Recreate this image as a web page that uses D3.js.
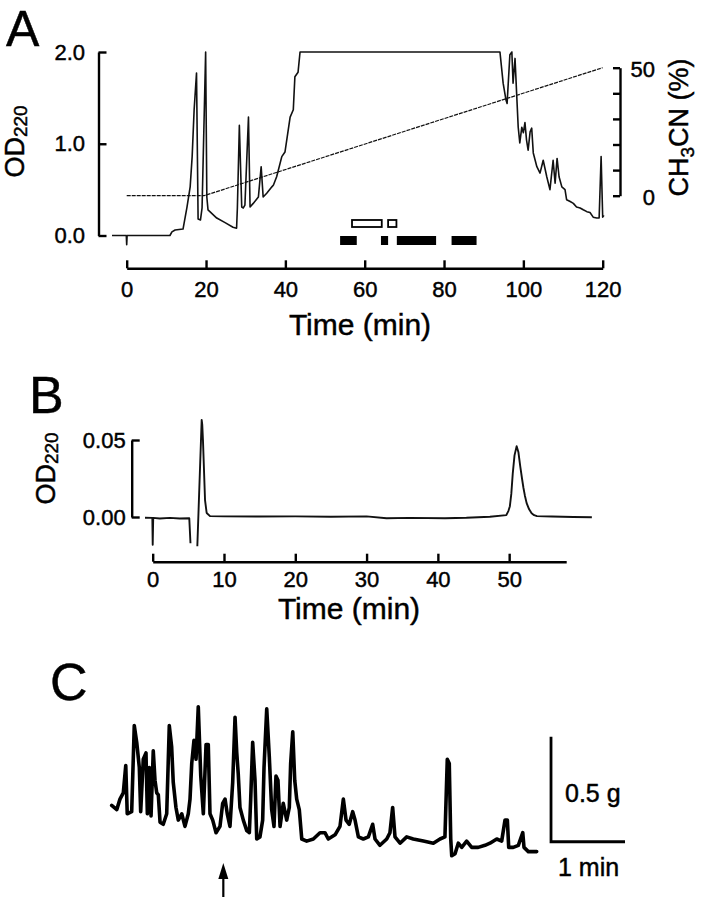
<!DOCTYPE html>
<html><head><meta charset="utf-8">
<script src="https://cdn.jsdelivr.net/npm/d3@7"></script>
<style>body{margin:0;background:#fff}</style>
</head><body><svg id="c" width="702" height="899"></svg>
<script>
const FONT = '"Liberation Sans", Arial, Helvetica, sans-serif';

// ---------- Panel A data ----------
const aTime = [-3.7,-0.1,0,0.1,5,10.9,11.4,12.2,14.2,15.2,16.0,16.5,17.0,17.6,18.0,18.6,19.0,19.9,20.2,20.5,22.7,24.8,26.8,27.7,27.9,28.4,29.0,29.4,29.8,30.7,31.1,31.9,33.2,33.9,34.4,35.3,36.6,37.0,37.8,39.1,39.9,41.2,42.0,42.4,43.2,43.7,94.1,94.9,95.6,95.9,96.6,97.1,97.4,97.9,98.3,98.7,99.1,99.6,100.0,100.4,100.8,101.2,101.7,102.1,102.5,103.4,104.2,105.0,105.9,106.7,107.5,108.0,108.5,109.0,109.7,110.5,110.9,111.8,112.6,113.4,114.3,115.1,116.0,116.8,117.6,118.5,119.1,119.6,120.0,120.3];
const aOD   = [0,0,-0.1,0,0,0,0.04,0.06,0.07,0.31,0.53,0.86,1.37,1.77,0.18,0.17,0.30,2.0,0.42,0.28,0.19,0.14,0.09,0.08,0.30,1.20,0.31,0.30,0.33,1.29,0.31,0.35,0.42,0.75,0.42,0.46,0.53,0.55,0.64,0.86,0.91,1.29,1.37,1.73,1.78,2.0,2.0,1.66,1.48,1.44,1.97,2.0,1.66,1.93,1.55,1.18,1.01,1.18,1.12,1.23,1.04,0.93,1.13,1.17,0.90,0.75,0.68,0.82,0.64,0.50,0.82,0.57,0.84,0.64,0.53,0.50,0.39,0.37,0.35,0.31,0.30,0.28,0.26,0.25,0.20,0.19,0.19,0.86,0.20,0.22];
const aGradTime = [0, 19.5, 120];
const aGradPct  = [0, 0, 50];
const aOpenBars   = [[56.8,64.3],[65.9,68.0]];
const aFilledBars = [[53.8,58.0],[64.1,65.9],[68.1,78.0],[81.9,88.2]];
const aXTicks = [0,20,40,60,80,100,120];
const aYTicks = [0,1,2];
const aRightTicks = [0,10,20,30,40,50];
const aRightLabels = {0:"0",50:"50"};

// ---------- Panel B data ----------
const bTime = [-1.08,-0.05,0,0.07,1.0,2.4,3.8,5.13,5.30,null,6.26,6.87,6.95,7.05,7.34,7.57,8.04,10,15,20,25,30,32.8,36,41.0,44,47.3,49.6,49.9,50.1,50.3,50.5,50.75,51.05,51.3,51.55,51.8,52.0,52.2,52.45,52.8,53.15,53.5,53.9,56,59,61.6];
const bOD   = [-0.0005,-0.0006,-0.018,-0.0006,-0.001,-0.0006,-0.001,-0.0008,-0.017,null,-0.019,0.063,0.060,0.050,0.011,0.0026,0.0006,0.0004,0.0003,0.0004,0.0002,0.0004,-0.0008,-0.0006,-0.0008,-0.0005,0.0002,0.0012,0.004,0.007,0.015,0.028,0.040,0.046,0.042,0.033,0.025,0.019,0.014,0.009,0.005,0.0024,0.0012,0.0006,0.0003,0.0,-0.0002];
const bXTicks = [0,10,20,30,40,50];
const bYTicks = [0,0.05];

// ---------- Panel C data (time in s, force in g) ----------
const cTime = [0,4.1,6.7,9.4,11.4,12.6,16.2,18.3,20.3,22.4,23.5,25.6,27.8,28.9,30.5,31.9,33.7,35.1,36.5,37.8,39.2,41.8,44.6,46.7,48.6,49.9,52.1,54.0,56.8,59.4,62.1,63.5,64.9,66.7,68.4,70.2,72.2,74.3,76.5,78.3,79.7,81.9,84.6,87.8,90.0,91.9,93.7,95.9,98.1,100.0,101.4,102.6,104.0,106.7,109.5,111.6,112.7,114.3,116.2,117.6,120.2,122.4,123.5,125.7,127.8,129.7,131.6,133.2,134.8,136.5,139.1,141.9,144.0,145.1,146.8,148.4,150.0,152.1,154.1,158.1,163.5,168.9,172.9,175.6,181.1,185.1,187.8,190.0,192.6,195.4,197.3,200.0,204.0,208.1,211.6,213.5,217.5,223.0,225.6,227.8,229.7,233.8,239.2,244.5,252.7,260.8,266.2,270.2,272.1,273.7,274.9,275.7,278.4,281.0,283.8,287.8,291.9,297.2,302.7,306.7,312.2,316.2,318.9,320.8,321.9,325.6,329.7,333.3,334.3,337.8,341.8,344.6];
const cForce = [0.26,0.24,0.29,0.32,0.45,0.22,0.23,0.64,0.56,0.44,0.23,0.48,0.51,0.22,0.44,0.21,0.52,0.38,0.32,0.31,0.18,0.17,0.22,0.64,0.54,0.37,0.25,0.19,0.22,0.16,0.22,0.29,0.46,0.57,0.48,0.73,0.40,0.22,0.55,0.55,0.22,0.19,0.13,0.16,0.27,0.29,0.22,0.16,0.37,0.68,0.51,0.41,0.25,0.19,0.14,0.13,0.29,0.56,0.38,0.10,0.11,0.19,0.44,0.72,0.49,0.24,0.16,0.40,0.38,0.16,0.27,0.19,0.25,0.46,0.61,0.38,0.29,0.24,0.10,0.09,0.10,0.13,0.13,0.10,0.12,0.16,0.29,0.19,0.17,0.23,0.19,0.11,0.10,0.11,0.17,0.10,0.07,0.10,0.13,0.25,0.11,0.08,0.11,0.10,0.09,0.08,0.10,0.11,0.48,0.46,0.10,0.02,0.03,0.08,0.06,0.09,0.06,0.06,0.07,0.08,0.10,0.09,0.19,0.19,0.06,0.06,0.07,0.13,0.06,0.04,0.04,0.04];
const cScaleBarStart = [356.2, 0.087]; // s, g
const cScaleForce = 0.5;   // g
const cScaleTime = 60;     // s
const cArrowTime = 90.5;   // s

// ---------- Drawing ----------
const svg = d3.select("#c");
svg.append("rect").attr("width",702).attr("height",899).attr("fill","#fff");

const TXT_STROKE = 0.45;
function styleAxis(g, fs){
  g.attr("font-family", FONT).attr("font-size", fs);
  g.selectAll("path.domain").attr("stroke","#000").attr("stroke-width",2.4);
  g.selectAll(".tick line").attr("stroke","#000").attr("stroke-width",2.4);
  g.selectAll(".tick text").attr("fill","#000").attr("stroke","#000").attr("stroke-width",TXT_STROKE);
}
function label(txt, x, y, fs, anchor){
  return svg.append("text").attr("x",x).attr("y",y).attr("font-family",FONT)
    .attr("font-size",fs).attr("text-anchor",anchor||"start").attr("fill","#000")
    .attr("stroke","#000").attr("stroke-width",TXT_STROKE).text(txt);
}
function rotLabel(x, y, fs){
  return svg.append("text").attr("transform",`translate(${x},${y}) rotate(-90)`)
    .attr("font-family",FONT).attr("font-size",fs).attr("text-anchor","middle")
    .attr("fill","#000").attr("stroke","#000").attr("stroke-width",TXT_STROKE);
}

// ===== Panel A =====
const xA = d3.scaleLinear().domain([0,120]).range([126.7,602.7]);
const yA = d3.scaleLinear().domain([0,2]).range([235.5,52]);
const yAR = d3.scaleLinear().domain([0,50]).range([195.7,67.7]);

label("A", 6, 46, 50);

svg.append("g").attr("transform","translate(0,268.3)")
  .call(d3.axisBottom(xA).tickValues(aXTicks).tickFormat(d3.format("d"))
    .tickSizeInner(-8).tickSizeOuter(0).tickPadding(13.5))
  .call(g=>styleAxis(g,22));

svg.append("g").attr("transform","translate(98.5,0)")
  .call(d3.axisLeft(yA).tickValues(aYTicks).tickFormat(d3.format(".1f"))
    .tickSizeInner(-8).tickSizeOuter(0).tickPadding(13.5))
  .call(g=>styleAxis(g,22));

svg.append("g").attr("transform","translate(620,0)")
  .call(d3.axisRight(yAR).tickValues(aRightTicks).tickFormat(d=>aRightLabels[d]||"")
    .tickSizeInner(-7).tickSizeOuter(0).tickPadding(35))
  .call(g=>styleAxis(g,22))
  .call(g=>g.selectAll(".tick text").attr("text-anchor","end").attr("dy","0.4em"));

// gradient line
svg.append("path")
  .datum(aGradTime.map((t,i)=>[t,aGradPct[i]]))
  .attr("d", d3.line().x(d=>xA(d[0])).y(d=>yAR(d[1])))
  .attr("fill","none").attr("stroke","#111").attr("stroke-width",1.2)
  .attr("stroke-dasharray","4,1");

// chromatogram
svg.append("path")
  .datum(aTime.map((t,i)=>[t,aOD[i]]))
  .attr("d", d3.line().x(d=>xA(d[0])).y(d=>yA(d[1])))
  .attr("fill","none").attr("stroke","#111").attr("stroke-width",1.6)
  .attr("stroke-linejoin","round");

// fraction bars
svg.selectAll("rect.open").data(aOpenBars).enter().append("rect")
  .attr("x",d=>xA(d[0])).attr("width",d=>xA(d[1])-xA(d[0]))
  .attr("y",220).attr("height",7)
  .attr("fill","#fff").attr("stroke","#000").attr("stroke-width",1.8);
svg.selectAll("rect.filled").data(aFilledBars).enter().append("rect")
  .attr("x",d=>xA(d[0])).attr("width",d=>xA(d[1])-xA(d[0]))
  .attr("y",236).attr("height",9).attr("fill","#000");

// axis titles A
const odA = rotLabel(24,141.5,27);
odA.append("tspan").text("OD");
odA.append("tspan").attr("font-size",19).attr("dy",3).text("220");

const chA = rotLabel(688,127.5,27);
chA.append("tspan").text("CH");
chA.append("tspan").attr("font-size",19).attr("dy",6).text("3");
chA.append("tspan").attr("dy",-6).text("CN (%)");

label("Time (min)", 360, 335, 30, "middle");

// ===== Panel B =====
const xB = d3.scaleLinear().domain([0,58]).range([152.7,566.2]);
const yB = d3.scaleLinear().domain([0,0.05]).range([517,440]);

label("B", 29, 413, 52);

svg.append("g").attr("transform","translate(0,561.7)")
  .call(d3.axisBottom(xB).tickValues(bXTicks).tickFormat(d3.format("d"))
    .tickSizeInner(-8).tickSizeOuter(0).tickPadding(10))
  .call(g=>styleAxis(g,22));

svg.append("g").attr("transform","translate(131.7,0)")
  .call(d3.axisLeft(yB).tickValues(bYTicks).tickFormat(d3.format(".2f"))
    .tickSizeInner(-8).tickSizeOuter(0).tickPadding(6))
  .call(g=>styleAxis(g,22));

svg.append("path")
  .datum(bTime.map((t,i)=>[t,bOD[i]]))
  .attr("d", d3.line().defined(d=>d[0]!==null && d[1]!==null).x(d=>xB(d[0])).y(d=>yB(d[1])))
  .attr("fill","none").attr("stroke","#111").attr("stroke-width",1.9)
  .attr("stroke-linejoin","round");

const odB = rotLabel(55,468.5,27);
odB.append("tspan").text("OD");
odB.append("tspan").attr("font-size",19).attr("dy",3).text("220");

label("Time (min)", 349, 619, 30, "middle");

// ===== Panel C =====
const xC = d3.scaleLinear().domain([0,60]).range([111.7,185.7]);
const yC = d3.scaleLinear().domain([0,0.5]).range([860,755]);

label("C", 50, 700, 52);

svg.append("path")
  .datum(cTime.map((t,i)=>[t,cForce[i]]))
  .attr("d", d3.line().x(d=>xC(d[0])).y(d=>yC(d[1])))
  .attr("fill","none").attr("stroke","#000").attr("stroke-width",3.6)
  .attr("stroke-linejoin","round").attr("stroke-linecap","round");

// scale bar
const sx0 = xC(cScaleBarStart[0]), sy0 = yC(cScaleBarStart[1]);
svg.append("path")
  .attr("d", `M${sx0},${yC(cScaleBarStart[1]+cScaleForce)}V${sy0}H${xC(cScaleBarStart[0]+cScaleTime)}`)
  .attr("fill","none").attr("stroke","#000").attr("stroke-width",2.8);
label("0.5 g", sx0+14, yC(cScaleBarStart[1]+cScaleForce*0.38), 25);
label("1 min", sx0+7, sy0+34, 25);

// arrow
const ax = xC(cArrowTime);
svg.append("line").attr("x1",ax).attr("x2",ax).attr("y1",897).attr("y2",876)
  .attr("stroke","#000").attr("stroke-width",2.2);
svg.append("path").attr("d",`M${ax},863L${ax-5},879L${ax+5},879Z`).attr("fill","#000");
</script>
</body></html>
